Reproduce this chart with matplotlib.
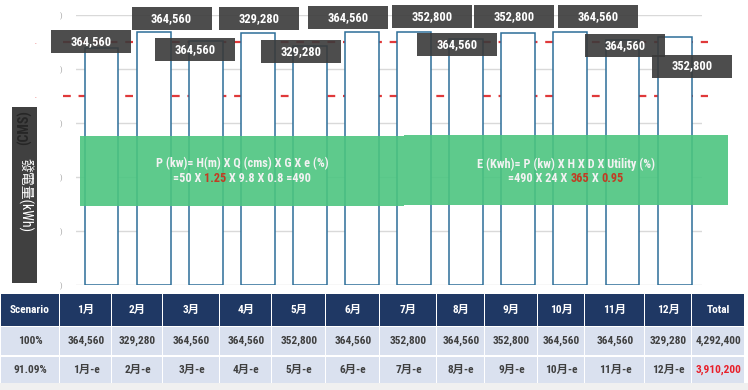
import matplotlib
matplotlib.use("Agg")
import matplotlib.pyplot as plt
from matplotlib.patches import Rectangle
from matplotlib import font_manager

# ---- data -------------------------------------------------------------
months = ["1月", "2月", "3月", "4月", "5月", "6月",
          "7月", "8月", "9月", "10月", "11月", "12月"]
bar_heights = [439000, 468000, 452000, 467000, 443000, 468000,
               468000, 456000, 467000, 468000, 454000, 459000]
# numbers printed in the dark label boxes above the bars
bar_labels = ["364,560", "364,560", "364,560", "329,280", "329,280", "364,560",
              "352,800", "364,560", "352,800", "364,560", "364,560", "352,800"]
ref_lines = [450000, 350000]
y_ticks = [0, 100000, 200000, 300000, 400000, 500000]

scenarios = ["100%", "91.09%"]
energy_100 = [364560, 329280, 364560, 364560, 352800, 364560,
              352800, 364560, 352800, 364560, 364560, 329280]
total_100 = "4,292,400"
energy_9109 = [m + "-e" for m in months]
total_9109 = "3,910,200"

# ---- fonts ------------------------------------------------------------
names = {f.name for f in font_manager.fontManager.ttflist}
narrow = next((n for n in ["Liberation Sans Narrow", "Roboto Condensed",
                           "Open Sans Condensed", "Roboto"] if n in names),
              "DejaVu Sans")
FONT = [narrow, "Noto Sans CJK TC", "DejaVu Sans"]
plt.rcParams["font.family"] = FONT

W, H = 748, 390
fig = plt.figure(figsize=(W / 100, H / 100), dpi=100)

# main plot area in pixels: x 76..702, y 15..285
left, right, top, bottom = 76, 702, 15, 285
ax = fig.add_axes([left / W, 1 - bottom / H, (right - left) / W, (bottom - top) / H])
x0, step = 101.5, 52.1
ax.set_xlim((left - x0) / step, (right - x0) / step)
ax.set_ylim(0, 500000)

ax.set_yticks(y_ticks)
ax.set_yticklabels([")"] * len(y_ticks))
ax.tick_params(axis="y", length=0, pad=10, labelcolor="#a6a6a6", labelsize=6)
ax.set_xticks([])
ax.grid(axis="y", color="#d9d9d9", lw=1, zorder=0)
for s in ax.spines.values():
    s.set_visible(False)

xs = list(range(len(months)))
for y in ref_lines:
    ax.hlines(y, (63 - x0) / step, (708 - x0) / step, colors="#e0393a",
              linestyles=(0, (3.5, 3.5)), lw=1.6, clip_on=False, zorder=1)
ax.bar(xs, bar_heights, width=0.65, color="white", edgecolor="#2c6e99",
       lw=1.1, zorder=2)

# overlay in figure pixels
ov = fig.add_axes([0, 0, 1, 1])
ov.set_xlim(0, W)
ov.set_ylim(H, 0)
ov.axis("off")
ov.patch.set_alpha(0)

# green formula band
ov.add_patch(Rectangle((80, 136), 324, 70, color="#4cc580", alpha=0.9, lw=0, zorder=3))
ov.add_patch(Rectangle((404, 135), 324, 70, color="#4cc580", alpha=0.9, lw=0, zorder=3))

fig.canvas.draw()
renderer = fig.canvas.get_renderer()


def pieces_text(xc, y, pieces, size):
    texts = [ov.text(0, y, s, color=c, ha="left", va="center", fontsize=size,
                     fontweight="bold", zorder=5) for s, c in pieces]
    widths = [t.get_window_extent(renderer).width for t in texts]
    x = xc - sum(widths) / 2
    for t, w in zip(texts, widths):
        t.set_x(x)
        x += w


txt, red = "#f2f2f2", "#c23b22"
pieces_text(242, 164, [("P (kw)= H(m) X Q (cms) X G X e (%)", txt)], 8.8)
pieces_text(242, 179, [("=50 X ", txt), ("1.25", red), (" X 9.8 X 0.8 =490", txt)], 8.8)
pieces_text(566, 164, [("E (Kwh)= P (kw) X H X D X Utility (%)", txt)], 8.8)
pieces_text(566, 179, [("=490 X 24 X ", txt), ("365", red), (" X ", txt),
                       ("0.95", red)], 8.8)

# dark label boxes over the bars
dx = [-10.5, 18, -11, 1, -9, -14, 18, -9, -4, 28, 3, 17.5]
cy = [41.5, 18.5, 49.5, 18.5, 51.5, 17.5, 16.5, 44.5, 16.5, 16.5, 45.5, 66]
for i, lab in enumerate(bar_labels):
    bx = ax.transData.transform((xs[i], bar_heights[i]))[0] + dx[i]
    ov.add_patch(Rectangle((bx - 40, cy[i] - 11.5), 80, 23, color="#3a3a3a",
                           alpha=0.9, lw=0, zorder=6))
    ov.text(bx, cy[i], lab, color="white", ha="center", va="center",
            fontsize=9, fontweight="bold", zorder=7)

# small red marks left of the axis
for y in ref_lines:
    py = ax.transData.transform((0, y))[1]
    ov.text(35, H - py, ".", color="#e0393a", fontsize=5, ha="center", va="center")

# y label box (a dark "(CMS)" label peeks out above the white one)
ov.add_patch(Rectangle((12, 107), 25, 176, color="#404040", lw=0, zorder=4))
ov.text(24.5, 110, "(CMS)", rotation=90, color="#262626", fontsize=10,
        ha="center", va="top", fontweight="bold", zorder=5)
ov.text(25, 195, "發電量(kWh)", rotation=-90, color="white", fontsize=10,
        ha="center", va="center", zorder=5)

# table
cols = [0, 60, 112, 163, 220, 272, 326, 380, 437, 485, 538, 585, 645, 692, 745]
rows = [(294, 326), (327, 355), (357, 383)]
ov.add_patch(Rectangle((0, 383), W, 7, color="#f0f0f0", lw=0, zorder=3))
header = ["Scenario"] + months + ["Total"]
row1 = [scenarios[0]] + [f"{v:,}" for v in energy_100] + [total_100]
row2 = [scenarios[1]] + energy_9109 + [total_9109]
for r, (cells, (ya, yb)) in enumerate(zip([header, row1, row2], rows)):
    for c, val in enumerate(cells):
        xa, xb = cols[c], cols[c + 1]
        face = "#1f3864" if r == 0 else "#dae1ef"
        ov.add_patch(Rectangle((xa + 0.5, ya), xb - xa - 1.5, yb - ya, color=face,
                               lw=0, zorder=4))
        color = "white" if r == 0 else "#404040"
        if r == 2 and c == len(cells) - 1:
            color = "#e8202a"
        ov.text((xa + xb) / 2, (ya + yb) / 2, val, color=color, ha="center",
                va="center", fontsize=8.2, fontweight="bold", zorder=5)

fig.savefig("out.png", dpi=100)
